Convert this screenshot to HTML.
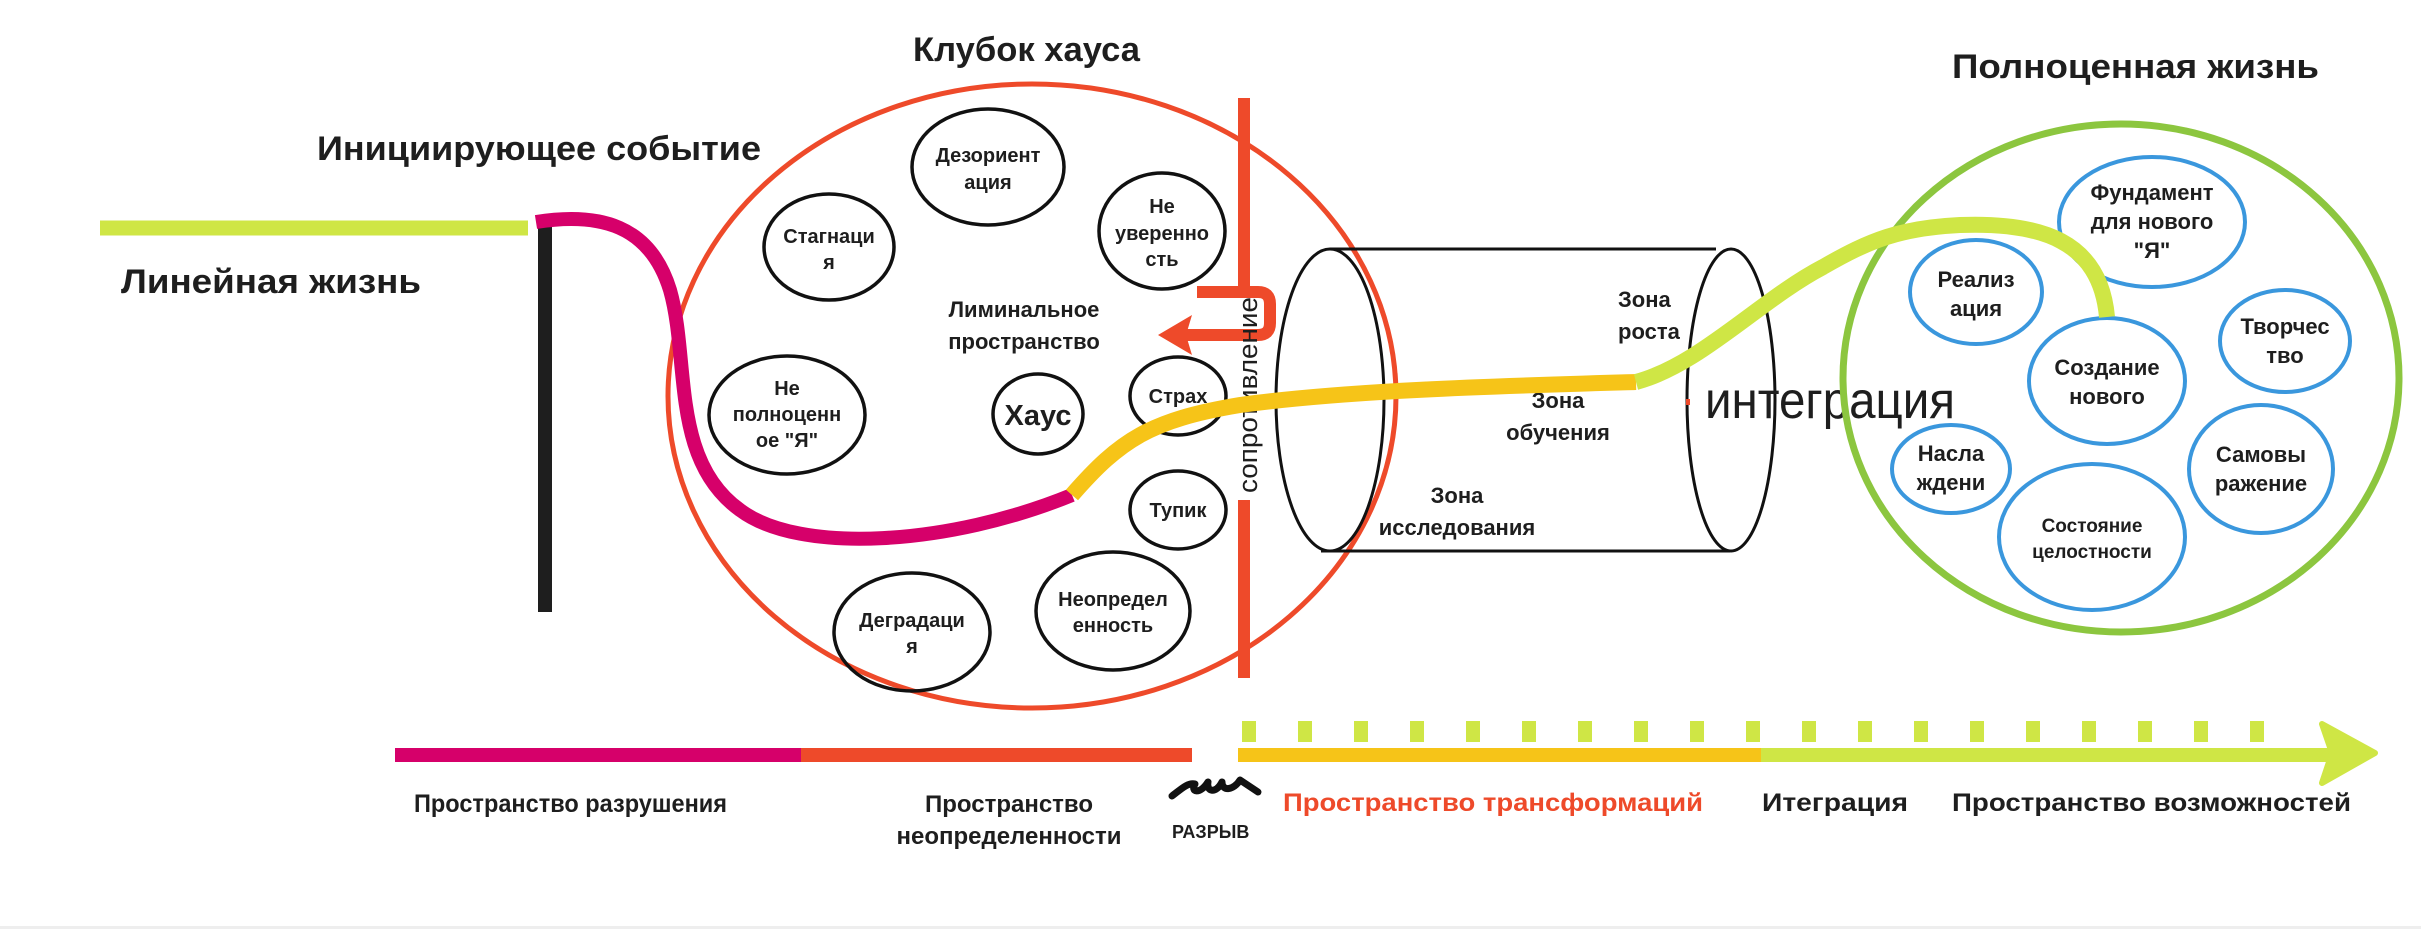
<!DOCTYPE html>
<html><head><meta charset="utf-8"><style>
html,body{margin:0;padding:0;background:#fff;}
svg{display:block;}
text{font-family:"Liberation Sans","Noto Sans CJK SC",sans-serif;fill:#1e1e1e;}
.b{font-weight:bold;}
</style></head><body>
<svg width="2421" height="929" viewBox="0 0 2421 929" xmlns="http://www.w3.org/2000/svg">
<rect x="0" y="926" width="2421" height="3" fill="#eeeeee"/>
<line x1="100" y1="228" x2="528" y2="228" stroke="#cfe645" stroke-width="15"/>
<line x1="545" y1="222" x2="545" y2="612" stroke="#1e1e1e" stroke-width="14"/>
<ellipse cx="1032" cy="396" rx="364" ry="312" fill="none" stroke="#ee4a2a" stroke-width="5"/>
<g fill="none" stroke="#111" stroke-width="3.5">
<ellipse cx="988" cy="167" rx="76" ry="58"/>
<ellipse cx="829" cy="247" rx="65" ry="53"/>
<ellipse cx="1162" cy="231" rx="63" ry="58"/>
<ellipse cx="787" cy="415" rx="78" ry="59"/>
<ellipse cx="1038" cy="414" rx="45" ry="40"/>
<ellipse cx="1178" cy="396" rx="48" ry="39"/>
<ellipse cx="1178" cy="510" rx="48" ry="39"/>
<ellipse cx="912" cy="632" rx="78" ry="59"/>
<ellipse cx="1113" cy="611" rx="77" ry="59"/>
</g>
<g class="b" font-size="20" text-anchor="middle">
<text x="988" y="162">Дезориент</text><text x="988" y="189">ация</text>
<text x="829" y="243">Стагнаци</text><text x="829" y="269">я</text>
<text x="1162" y="213">Не</text><text x="1162" y="240">уверенно</text><text x="1162" y="266">сть</text>
<text x="787" y="395">Не</text><text x="787" y="421">полноценн</text><text x="787" y="447">ое "Я"</text>
<text x="1038" y="425" font-size="29">Хаус</text>
<text x="1178" y="403">Страх</text>
<text x="1178" y="517">Тупик</text>
<text x="912" y="627">Деградаци</text><text x="912" y="653">я</text>
<text x="1113" y="606">Неопредел</text><text x="1113" y="632">енность</text>
<text x="1024" y="317" font-size="22">Лиминальное</text>
<text x="1024" y="349" font-size="22">пространство</text>
</g>
<g class="b" font-size="34">
<text x="913" y="61" textLength="227" lengthAdjust="spacingAndGlyphs">Клубок хауса</text>
<text x="317" y="160" textLength="444" lengthAdjust="spacingAndGlyphs">Инициирующее событие</text>
<text x="121" y="293" textLength="300" lengthAdjust="spacingAndGlyphs">Линейная жизнь</text>
<text x="1952" y="78" textLength="367" lengthAdjust="spacingAndGlyphs">Полноценная  жизнь</text>
</g>
<g fill="none" stroke="#111" stroke-width="3">
<ellipse cx="1330" cy="400" rx="54" ry="151"/>
<ellipse cx="1731" cy="400" rx="44" ry="151"/>
<line x1="1330" y1="249" x2="1716" y2="249"/>
<line x1="1321" y1="551" x2="1730" y2="551"/>
</g>
<g class="b" font-size="22">
<text x="1618" y="307">Зона</text><text x="1618" y="339">роста</text>
<text x="1558" y="408" text-anchor="middle">Зона</text><text x="1558" y="440" text-anchor="middle">обучения</text>
<text x="1457" y="503" text-anchor="middle">Зона</text><text x="1457" y="535" text-anchor="middle">исследования</text>
</g>
<text x="1705" y="418" font-size="52" textLength="250" lengthAdjust="spacingAndGlyphs">интеграция</text>
<rect x="1686" y="399" width="4" height="6" fill="#ee4a2a"/>
<g stroke="#ee4a2a" stroke-width="12" fill="none">
<line x1="1244" y1="98" x2="1244" y2="292"/>
<line x1="1244" y1="500" x2="1244" y2="678"/>
<path d="M1197 292 H1258 Q1270 292 1270 304 V323 Q1270 335 1258 335 H1175"/>
</g>
<polygon points="1158,335 1192,315 1186,335 1192,355" fill="#ee4a2a"/>
<text transform="translate(1257,493) rotate(-90)" font-size="27" fill="#333" textLength="196" lengthAdjust="spacingAndGlyphs">сопротивление</text>
<ellipse cx="2121" cy="378" rx="278" ry="254" fill="none" stroke="#8cc63f" stroke-width="7"/>
<g fill="none" stroke="#3a97dd" stroke-width="4">
<ellipse cx="2152" cy="222" rx="93" ry="65"/>
<ellipse cx="1976" cy="292" rx="66" ry="52"/>
<ellipse cx="2107" cy="381" rx="78" ry="63"/>
<ellipse cx="2285" cy="341" rx="65" ry="51"/>
<ellipse cx="1951" cy="469" rx="59" ry="44"/>
<ellipse cx="2261" cy="469" rx="72" ry="64"/>
<ellipse cx="2092" cy="537" rx="93" ry="73"/>
</g>
<path d="M536 222 C600 212 650 225 670 290 C690 360 670 460 740 510 C800 555 950 545 1072 495" fill="none" stroke="#d6006a" stroke-width="14"/>
<path d="M1072 495 C1120 440 1150 420 1240 405 C1350 390 1500 386 1636 382" fill="none" stroke="#f6c418" stroke-width="16"/>
<path d="M1636 382 C1700 365 1760 300 1823 267 C1870 240 1900 228 1960 225 C2040 222 2100 240 2107 317" fill="none" stroke="#cfe645" stroke-width="16"/>
<g class="b" font-size="22" text-anchor="middle">
<text x="2152" y="200">Фундамент</text><text x="2152" y="229">для нового</text><text x="2152" y="258">"Я"</text>
<text x="1976" y="287">Реализ</text><text x="1976" y="316">ация</text>
<text x="2107" y="375">Создание</text><text x="2107" y="404">нового</text>
<text x="2285" y="334">Творчес</text><text x="2285" y="363">тво</text>
<text x="1951" y="461">Насла</text><text x="1951" y="490">ждени</text>
<text x="2261" y="462">Самовы</text><text x="2261" y="491">ражение</text>
<text x="2092" y="532" font-size="19">Состояние</text><text x="2092" y="558" font-size="19">целостности</text>
</g>
<rect x="395" y="748" width="406" height="14" fill="#d6006a"/>
<rect x="801" y="748" width="391" height="14" fill="#ee4a2a"/>
<rect x="1238" y="748" width="523" height="14" fill="#f6c418"/>
<rect x="1761" y="748" width="575" height="14" fill="#cfe645"/>
<polygon points="2375,753 2322,724 2332,753 2322,783" fill="#cfe645" stroke="#cfe645" stroke-width="6" stroke-linejoin="round"/>
<g fill="#cfe645">
<rect x="1242" y="721" width="14" height="21"/><rect x="1298" y="721" width="14" height="21"/><rect x="1354" y="721" width="14" height="21"/><rect x="1410" y="721" width="14" height="21"/><rect x="1466" y="721" width="14" height="21"/><rect x="1522" y="721" width="14" height="21"/><rect x="1578" y="721" width="14" height="21"/><rect x="1634" y="721" width="14" height="21"/><rect x="1690" y="721" width="14" height="21"/><rect x="1746" y="721" width="14" height="21"/><rect x="1802" y="721" width="14" height="21"/><rect x="1858" y="721" width="14" height="21"/><rect x="1914" y="721" width="14" height="21"/><rect x="1970" y="721" width="14" height="21"/><rect x="2026" y="721" width="14" height="21"/><rect x="2082" y="721" width="14" height="21"/><rect x="2138" y="721" width="14" height="21"/><rect x="2194" y="721" width="14" height="21"/><rect x="2250" y="721" width="14" height="21"/>
</g>
<path d="M1172 796 C1180 790 1188 782 1195 784 C1190 792 1200 795 1208 782 C1206 792 1216 794 1222 782 C1222 792 1234 790 1240 780 C1246 784 1252 788 1258 792" fill="none" stroke="#111" stroke-width="7" stroke-linecap="round" stroke-linejoin="round"/>
<g class="b" font-size="25">
<text x="414" y="812" textLength="313" lengthAdjust="spacingAndGlyphs">Пространство разрушения</text>
<text x="1009" y="812" text-anchor="middle" font-size="24">Пространство</text>
<text x="1009" y="844" text-anchor="middle" font-size="24">неопределенности</text>
<text x="1172" y="838" font-size="18">РАЗРЫВ</text>
<text x="1283" y="811" style="fill:#ee4a2a" textLength="420" lengthAdjust="spacingAndGlyphs">Пространство трансформаций</text>
<text x="1762" y="811" textLength="146" lengthAdjust="spacingAndGlyphs">Итеграция</text>
<text x="1952" y="811" textLength="399" lengthAdjust="spacingAndGlyphs">Пространство возможностей</text>
</g>
</svg>
</body></html>
